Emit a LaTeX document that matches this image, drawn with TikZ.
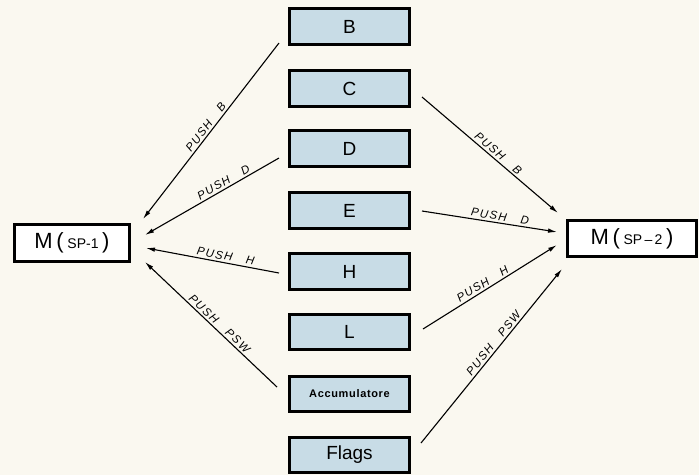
\documentclass[tikz,border=0pt]{standalone}
\usepackage{fontspec}
\setmainfont{Liberation Sans}
\newfontfamily\lblfont[LetterSpace=12]{Liberation Sans}
\newfontfamily\accfont[LetterSpace=6]{Liberation Sans}
\usetikzlibrary{arrows.meta}
\definecolor{bgc}{RGB}{250,248,240}
\definecolor{regfill}{RGB}{200,220,230}
\tikzset{
  reg/.style={draw=black, line width=2.6pt, fill=regfill, minimum width=120.5pt, minimum height=35.5pt, inner sep=0pt, font=\fontsize{19}{19}\selectfont},
  mem/.style={draw=black, line width=2.8pt, fill=white, inner sep=0pt},
  push/.style={line width=1.1pt, -{Latex[length=9pt,width=4.5pt]}},
  lbl/.style={sloped, above, inner sep=2pt, font=\lblfont\itshape\fontsize{11.5}{11.5}\selectfont}
}
\begin{document}
\begin{tikzpicture}[x=1pt,y=-1pt]
\fill[bgc] (0,0) rectangle (699,475);
\useasboundingbox (0,0) rectangle (699,475);
% registers
\node[reg] (B) at (349.5,26.5) {B};
\node[reg] (C) at (349.5,88.5) {C};
\node[reg] (D) at (349.5,148.5) {D};
\node[reg] (E) at (349.5,210.5) {E};
\node[reg] (H) at (349.5,271.5) {H};
\node[reg] (L) at (349.5,332) {L};
\node[reg, font=\accfont\bfseries\fontsize{11}{11}\selectfont] (A) at (349.5,394) {Accumulatore};
\node[reg] (F) at (349.5,455) {Flags};
% memory
\node[mem, minimum width=115.5pt, minimum height=37.5pt] (M1) at (72,243)
  {\fontsize{22}{22}\selectfont M\,(\,{\fontsize{14}{14}\selectfont SP-1}\,)};
\node[mem, minimum width=129.5pt, minimum height=36.5pt] (M2) at (632,238.5)
  {\fontsize{22}{22}\selectfont M\,(\,{\fontsize{14}{14}\selectfont SP\,–\,2}\,)};
% connector ends
\coordinate (bL) at (279,43);   \coordinate (bLt) at (143,219);
\coordinate (dL) at (279,158);  \coordinate (dLt) at (145,235);
\coordinate (hL) at (279,273);  \coordinate (hLt) at (146,248);
\coordinate (aL) at (277,387);  \coordinate (aLt) at (145,262);
\coordinate (cR) at (422,97);   \coordinate (cRt) at (558,213);
\coordinate (eR) at (422,211);  \coordinate (eRt) at (557,232);
\coordinate (lR) at (423,329);  \coordinate (lRt) at (557,245);
\coordinate (fR) at (421,443);  \coordinate (fRt) at (562,269);
% left connectors
\draw[push] (bL) -- node[lbl, pos=0.5] {PUSH\hspace{14pt}B} (bLt);
\draw[push] (dL) -- node[lbl, pos=0.39] {PUSH\hspace{14pt}D} (dLt);
\draw[push] (hL) -- node[lbl, pos=0.41] {PUSH\hspace{14pt}H} (hLt);
\draw[push] (aL) -- node[lbl, pos=0.47] {PUSH\hspace{14pt}PSW} (aLt);
% right connectors
\draw[push] (cR) -- node[lbl, pos=0.53] {PUSH\hspace{14pt}B} (cRt);
\draw[push] (eR) -- node[lbl, pos=0.57] {PUSH\hspace{14pt}D} (eRt);
\draw[push] (lR) -- node[lbl, pos=0.47] {PUSH\hspace{14pt}H} (lRt);
\draw[push] (fR) -- node[lbl, pos=0.55] {PUSH\hspace{14pt}PSW} (fRt);
\end{tikzpicture}
\end{document}
